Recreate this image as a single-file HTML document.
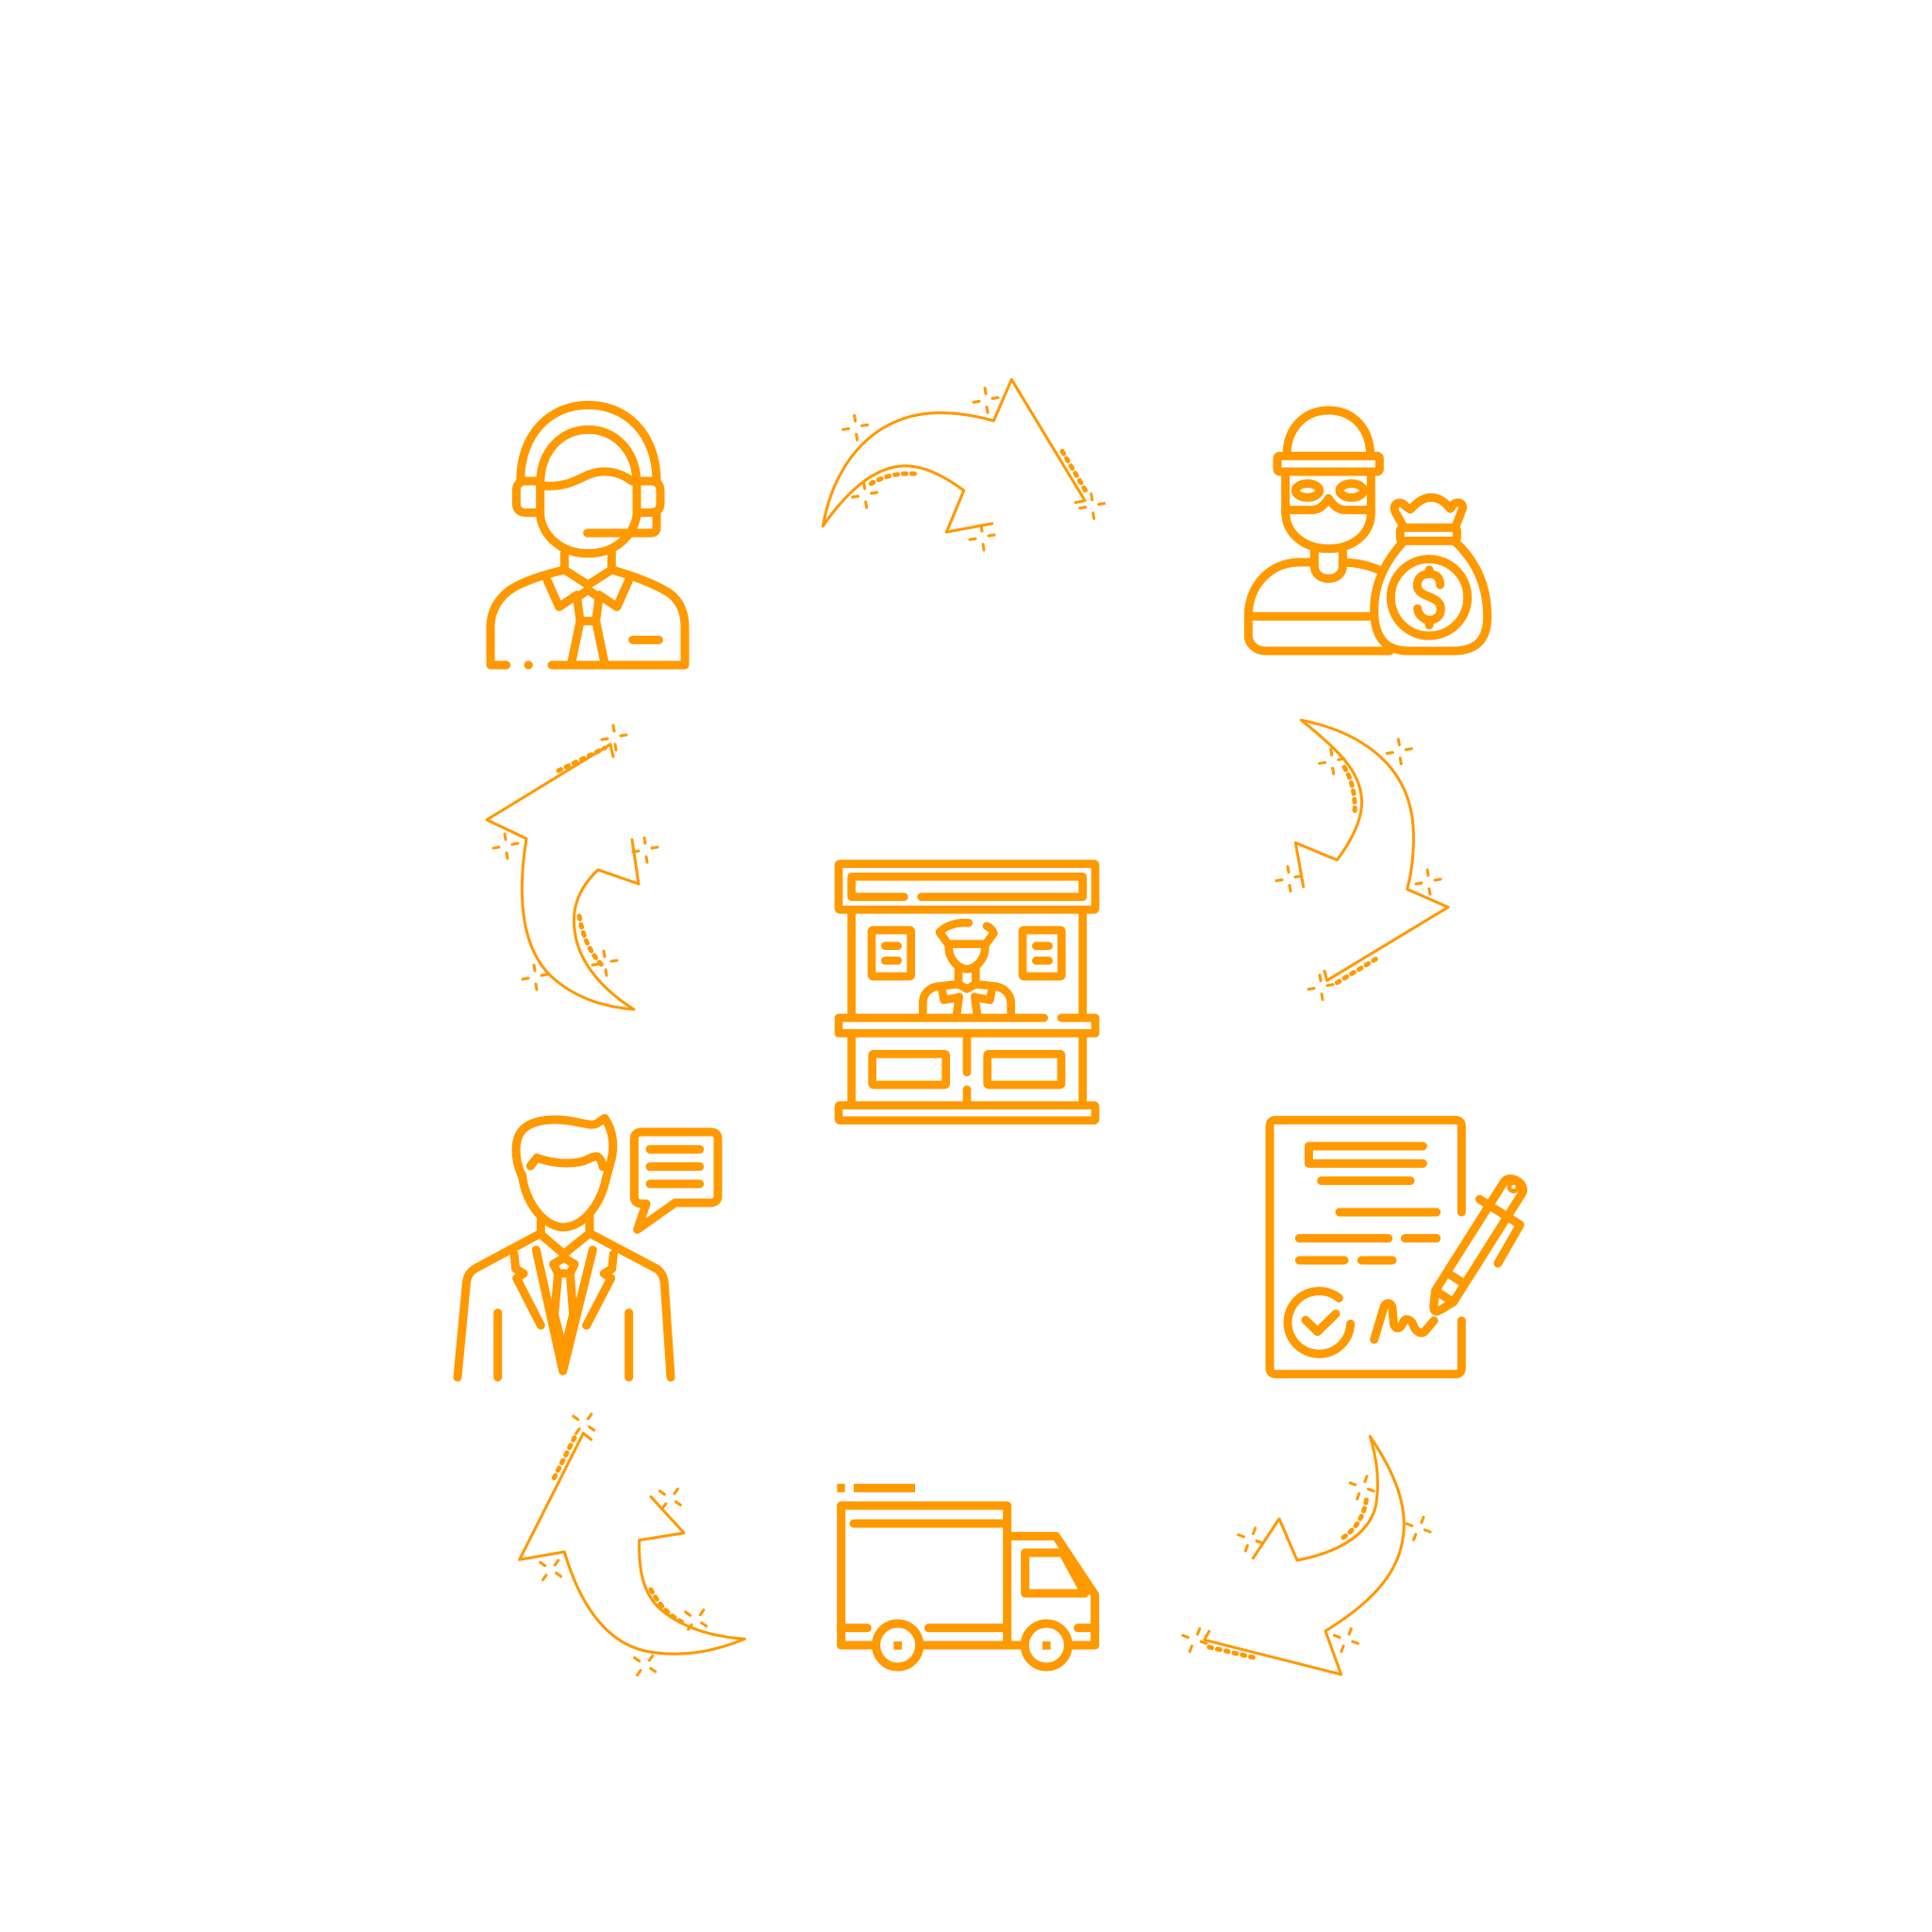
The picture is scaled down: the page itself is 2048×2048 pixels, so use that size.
<!DOCTYPE html>
<html>
<head>
<meta charset="utf-8">
<style>
  html, body { margin: 0; padding: 0; background: #ffffff; }
  svg { display: block; }
</style>
</head>
<body>
<svg width="2048" height="2048" viewBox="0 0 2048 2048" xmlns="http://www.w3.org/2000/svg">
  <defs>
    <g id="sp" fill="none" stroke="#FF9900" stroke-width="3" stroke-linecap="round">
      <path d="M-1,-13 L0,-7 M-13,2 L-7,1 M7,-2 L13,-3 M1,7 L2,13"/>
    </g>
  </defs>
  <rect width="2048" height="2048" fill="#ffffff"/>

  <!-- ============ ICONS ============ -->
  <g fill="none" stroke="#FF9900" stroke-linecap="round" stroke-linejoin="round">

    <!-- Headset person -->
    <g transform="translate(480,400) scale(0.33333)" stroke-width="27">
      <path d="M215,330 C215,180 310,88 431,88 C552,88 648,180 648,330"/>
      <path d="M278,330 L232,330 Q202,330 202,362 L202,400 Q202,430 232,430 L278,430"/>
      <path d="M585,330 L630,330 Q660,330 660,362 L660,400 Q660,430 630,430 L585,430"/>
      <path d="M648,430 L648,478 Q648,495 630,495 L428,495"/>
      <path d="M278,340 C278,230 350,166 431,166 C512,166 585,230 585,340"/>
      <path d="M278,340 L278,440 C285,500 340,560 431,560 C520,560 575,500 585,440 L585,340"/>
      <path d="M290,345 C350,350 390,330 430,310 C480,290 530,300 570,330"/>
      <path d="M355,560 L355,612 M505,555 L505,612"/>
      <path d="M355,612 C280,630 200,655 165,690 C132,722 120,760 120,795 L120,915 L170,915"/>
      <path d="M240,915 L241,915"/>
      <path d="M315,915 L738,915 L738,795 C738,745 720,705 682,682 C640,656 570,630 505,612"/>
      <path d="M355,612 L430,660 L505,612"/>
      <path d="M300,645 L338,730 L395,692"/>
      <path d="M560,645 L522,730 L465,692"/>
      <path d="M395,700 L430,676 L465,700 L455,775 L405,775 Z"/>
      <path d="M405,775 L378,905 M455,775 L482,905"/>
      <path d="M572,835 L655,835"/>
    </g>

    <!-- Thief with money bag -->
    <g transform="translate(1300,400) scale(0.33333)" stroke-width="27">
      <path d="M192,250 C192,160 250,105 325,105 C400,105 458,160 458,250"/>
      <rect x="162" y="250" width="325" height="50" rx="8"/>
      <path d="M188,300 L188,430 C190,500 250,545 325,545 C400,545 460,500 460,430 L460,300"/>
      <path d="M188,422 L270,422 C300,422 315,400 325,385 C335,400 350,422 380,422 L460,422"/>
      <ellipse cx="258" cy="360" rx="38" ry="22"/>
      <ellipse cx="398" cy="360" rx="38" ry="22"/>
      <path d="M280,545 L280,600 C280,625 300,640 325,640 C350,640 370,625 370,600 L370,545"/>
      <path d="M280,588 L230,588 C140,590 70,660 70,760 L70,820 C70,850 95,870 125,870 L520,870"/>
      <path d="M370,588 C420,590 460,600 490,615"/>
      <path d="M75,760 L465,760"/>
      <path d="M565,478 L537,428 C525,400 555,390 570,410 L585,420 C605,400 625,382 650,382 C680,382 700,402 712,418 L722,404 C740,390 760,405 748,425 L728,478"/>
      <rect x="553" y="478" width="180" height="42" rx="10"/>
      <path d="M565,520 C510,580 470,650 470,740 C470,820 500,870 580,870 L720,870 C800,870 830,830 830,760 C830,660 790,580 725,520"/>
      <circle cx="645" cy="700" r="122"/>
      <path d="M680,660 C680,635 665,625 645,625 C620,625 607,640 607,662 C607,690 645,695 660,705 C680,715 685,730 680,750 C672,770 650,775 635,770 C615,762 608,745 608,735"/>
      <path d="M645,612 L645,625 M645,775 L645,788"/>
    </g>

    <!-- Booth (center) -->
    <g transform="translate(850,880) scale(0.33333)" stroke-width="26">
      <rect x="117" y="107" width="816" height="146" rx="4"/>
      <path d="M325,212 L158,212 L158,148 L893,148 L893,212 L380,212"/>
      <path d="M158,253 L158,597 M893,253 L893,597"/>
      <path d="M770,597 L117,597 L117,646 L933,646 L933,597 L825,597"/>
      <path d="M158,646 L158,875 M893,646 L893,875"/>
      <rect x="117" y="875" width="816" height="48" rx="4"/>
      <path d="M525,646 L525,770 M525,825 L525,875"/>
      <rect x="224" y="712" width="234" height="98" rx="4"/>
      <rect x="590" y="712" width="235" height="98" rx="4"/>
      <rect x="222" y="318" width="125" height="147" rx="4"/>
      <rect x="702" y="318" width="124" height="147" rx="4"/>
      <path d="M265,368 L305,368 M265,415 L305,415 M745,368 L785,368 M745,415 L785,415"/>
      <path d="M530,295 C490,292 455,305 438,325 L465,362 L585,362 L610,328 C605,315 595,308 588,305"/>
      <path d="M467,370 C467,410 495,440 525,442 C555,440 583,410 583,370"/>
      <path d="M498,442 L498,488 M553,442 L553,488"/>
      <path d="M385,590 L385,550 C385,515 410,498 440,496 L498,490 L525,505 L553,490 L610,496 C640,498 665,520 665,550 L665,590"/>
      <path d="M445,505 L452,540 L492,533 M605,505 L598,540 L558,533"/>
      <path d="M500,530 L492,590 M550,530 L558,590"/>
    </g>

    <!-- Contract -->
    <g transform="translate(1330,1170) scale(0.33333)" stroke-width="27">
      <path d="M658,345 L658,72 Q658,52 638,52 L68,52 Q48,52 48,72 L48,840 Q48,860 68,860 L638,860 Q658,860 658,840 L658,690"/>
      <path d="M535,135 L172,135 L172,190 L535,190"/>
      <path d="M212,245 L495,245"/>
      <path d="M270,345 L578,345"/>
      <path d="M142,428 L425,428 M478,428 L578,428"/>
      <path d="M142,498 L285,498 M340,498 L438,498"/>
      <path d="M268,618 A100,100 0 1 0 305,700"/>
      <path d="M162,688 L200,725 L258,668"/>
      <path d="M380,750 L410,650 C415,630 435,630 438,650 L442,700 C445,715 460,720 470,700 L475,690 C485,680 500,690 505,705 C510,720 525,735 540,725 L570,690"/>
      <g transform="translate(570,665) rotate(32.3)">
        <path d="M-34,-383 L-34,-62 L-12,-18 Q0,4 12,-18 L34,-62 L34,-383"/>
        <path d="M-34,-62 L34,-62 M-34,-130 L34,-130"/>
        <path d="M-70,-383 L82,-383 L88,-242"/>
        <path d="M-34,-383 L-34,-470 C-34,-505 34,-505 34,-470 L34,-383"/>
        <circle cx="0" cy="-474" r="7"/>
      </g>
    </g>

    <!-- Truck -->
    <g transform="translate(870,1540) scale(0.33333)" stroke-width="27">
      <path d="M52,112 L77,112 M105,112 L300,112" stroke-linecap="butt"/>
      <path d="M65,612 L65,168 L593,168 L593,612"/>
      <path d="M105,225 L580,225"/>
      <path d="M65,612 L165,612 M325,612 L640,612 M795,612 L872,612"/>
      <path d="M65,557 L148,557 M343,557 L593,557 M818,557 L872,557"/>
      <path d="M593,265 L748,265 L872,452 L872,612"/>
      <path d="M650,318 L770,318 L840,447 L650,447 Z"/>
      <circle cx="245" cy="612" r="69"/>
      <circle cx="718" cy="612" r="69"/>
      <rect x="232" y="600" width="26" height="26" fill="#FF9900" stroke="none"/>
      <rect x="705" y="600" width="26" height="26" fill="#FF9900" stroke="none"/>
    </g>

    <!-- Businessman with speech bubble -->
    <g transform="translate(465,1170) scale(0.33333)" stroke-width="27">
      <path d="M265,230 C240,175 238,110 270,80 C300,52 360,45 420,55 C460,62 490,72 505,62 L528,46 C555,85 562,140 545,192 L532,240"/>
      <path d="M292,198 L312,172 C350,185 400,195 450,185 C475,180 490,165 505,168 C515,175 520,185 522,200"/>
      <path d="M265,225 C275,310 330,390 397,393 C462,390 515,320 532,240"/>
      <path d="M325,370 L325,412 M480,360 L480,412"/>
      <path d="M325,412 L120,522 C100,532 90,548 88,572 L60,870"/>
      <path d="M480,412 L688,522 C708,532 716,550 718,572 L738,870"/>
      <path d="M330,420 L398,478 L470,420"/>
      <path d="M310,465 L395,850 L490,465"/>
      <path d="M365,510 L398,490 L432,510 L418,540 L380,540 Z"/>
      <path d="M380,540 L368,670 L398,790 L428,670 L418,540"/>
      <path d="M240,478 L245,525 L270,540 L248,555 L325,705"/>
      <path d="M556,478 L551,525 L526,540 L548,555 L470,705"/>
      <path d="M188,665 L188,870 M605,665 L605,870"/>
      <path d="M660,318 L632,400 L752,315 L865,315 Q888,315 888,292 L888,112 Q888,90 865,90 L645,90 Q622,90 622,112 L622,295 Q622,318 645,318 Z"/>
      <path d="M672,145 L830,145 M672,200 L830,200 M672,255 L830,255"/>
    </g>
  </g>

  <!-- ============ ARROWS ============ -->
  <g fill="none" stroke="#FF9900" stroke-linecap="round" stroke-linejoin="round">

    <!-- Top arrow -->
    <g transform="translate(865,385) scale(0.33333)">
      <path stroke-width="9" d="M22,518 C60,300 200,155 400,158 C470,159 520,170 565,183 L622,52 L855,437 L825,443"/>
      <path stroke-width="9" d="M560,510 L415,537 L470,405 C390,345 320,320 262,328 C170,340 90,420 22,518"/>
      <path stroke-width="15" stroke-dasharray="9 18" d="M175,383 Q240,345 320,352 M783,280 L860,410"/>
      <use href="#sp" transform="translate(125,205) scale(3)"/>
      <use href="#sp" transform="translate(540,118) scale(3)"/>
      <use href="#sp" transform="translate(155,420) scale(3)"/>
      <use href="#sp" transform="translate(528,555) scale(3)"/>
      <use href="#sp" transform="translate(878,455) scale(3)"/>
    </g>

    <!-- Right-top arrow -->
    <g transform="translate(1330,750) scale(0.33333)">
      <path stroke-width="9" d="M222,838 L230,868 L615,635 L485,578 C495,540 507,480 505,400 C500,160 300,70 148,40 C260,130 335,200 340,290 C345,350 310,420 262,485 L130,430 L155,570"/>
      <path stroke-width="15" stroke-dasharray="9 18" d="M285,190 Q322,250 318,335 M262,875 L390,797"/>
      <use href="#sp" transform="translate(460,140) scale(3)"/>
      <use href="#sp" transform="translate(245,172) scale(3)"/>
      <use href="#sp" transform="translate(108,545) scale(3)"/>
      <use href="#sp" transform="translate(552,555) scale(3)"/>
      <use href="#sp" transform="translate(210,890) scale(3)"/>
    </g>

    <!-- Right-bottom arrow -->
    <g transform="translate(1240,1500) scale(0.33333)">
      <path stroke-width="9" d="M125,688 L110,715 L545,825 L495,687 C620,610 720,520 740,400 C760,300 720,190 637,68 C655,130 670,200 655,290 C630,390 520,440 405,462 L348,330 L265,455"/>
      <path stroke-width="15" stroke-dasharray="9 18" d="M625,270 Q612,350 548,392 M125,738 L270,772"/>
      <use href="#sp" transform="translate(610,230) scale(3) rotate(30)"/>
      <use href="#sp" transform="translate(255,395) scale(3) rotate(30)"/>
      <use href="#sp" transform="translate(790,360) scale(3) rotate(30)"/>
      <use href="#sp" transform="translate(560,715) scale(3) rotate(30)"/>
      <use href="#sp" transform="translate(78,715) scale(3) rotate(30)"/>
    </g>

    <!-- Bottom-left arrow -->
    <g transform="translate(530,1490) scale(0.33333)">
      <path stroke-width="9" d="M290,108 L265,88 L62,490 L205,465 C250,620 330,750 460,780 C560,800 660,790 778,742 C680,735 600,710 540,670 C460,620 440,540 443,428 L585,405 L480,290"/>
      <path stroke-width="15" stroke-dasharray="9 18" d="M172,230 L238,100 M480,585 Q520,660 582,690"/>
      <use href="#sp" transform="translate(265,57) scale(3) rotate(45)"/>
      <use href="#sp" transform="translate(540,295) scale(3) rotate(45)"/>
      <use href="#sp" transform="translate(160,522) scale(3) rotate(45)"/>
      <use href="#sp" transform="translate(622,680) scale(3) rotate(45)"/>
      <use href="#sp" transform="translate(460,825) scale(3) rotate(45)"/>
    </g>

    <!-- Left arrow -->
    <g>
      <path stroke-width="3" d="M650,802 L647,789 L516,869 L558,889 C548,950 552,1010 590,1040 C615,1060 645,1068 672,1070 C640,1050 612,1020 609,985 C606,960 615,940 634,922 L677,937 L670,890"/>
      <path stroke-width="5" stroke-dasharray="3 6" d="M592,817 L641,793 M614,971 Q620,1005 639,1024"/>
      <use href="#sp" transform="translate(651,782)"/>
      <use href="#sp" transform="translate(684,901)"/>
      <use href="#sp" transform="translate(536,897)"/>
      <use href="#sp" transform="translate(567,1036)"/>
      <use href="#sp" transform="translate(641,1021)"/>
    </g>
  </g>
</svg>
</body>
</html>
